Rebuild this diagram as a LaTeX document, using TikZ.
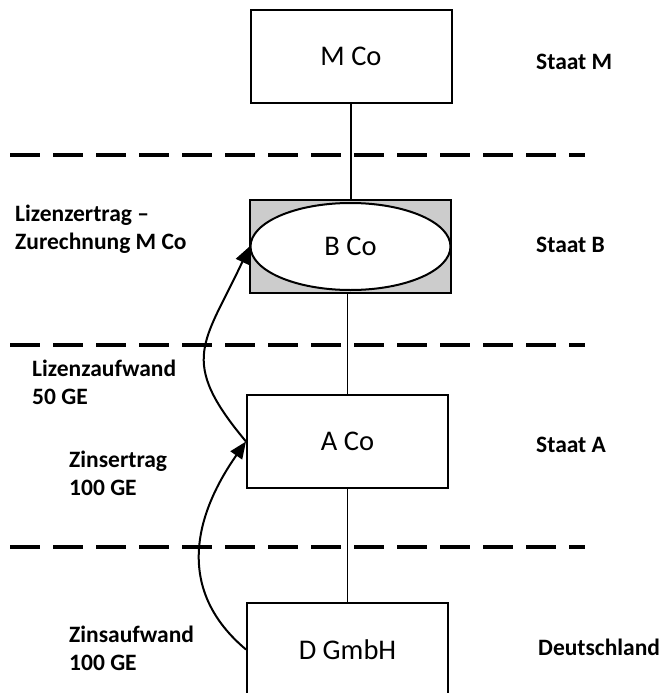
\documentclass[tikz,border=0pt]{standalone}
\usepackage{fontspec}
\setmainfont{Carlito}
\usetikzlibrary{arrows.meta,shapes.geometric}

\begin{document}
\begin{tikzpicture}[x=1pt, y=-1pt,
	entity/.style={draw, line width=2pt, minimum width=201pt, minimum height=93pt, inner sep=0pt, font=\fontsize{28.5}{32}\selectfont},
	state/.style={anchor=base west, inner sep=0pt, font=\bfseries\fontsize{23.5}{28}\selectfont},
	note/.style={anchor=north west, align=left, inner sep=0pt, font=\bfseries\fontsize{23.5}{28}\selectfont},
	border/.style={line width=4pt, dash pattern=on 30pt off 13pt},
	link/.style={line width=1.6pt},
	flow/.style={line width=2pt, -{Triangle[length=17pt, width=14pt]}}]
	\useasboundingbox (0,0) rectangle (662,693);
	\clip (0,0) rectangle (662,693);
	% state borders
	\foreach \yb in {155, 345, 547} {
		\draw[border] (10,\yb) -- (585,\yb);
	}
	% entities
	\node[entity] (mco) at (351,56.5) {M Co};
	\node[entity, fill=gray!40] (bco) at (350.5,246.5) {};
	\node[draw, ellipse, line width=2pt, fill=white, minimum width=200pt, minimum height=87pt, inner sep=0pt, font=\fontsize{28.5}{32}\selectfont] (bell) at (350.5,246.5) {B Co};
	\node[entity] (aco) at (347.5,441.5) {A Co};
	\node[entity] (dgmbh) at (347.5,649.5) {D GmbH};
	% ownership chain
	\draw[link] (mco.south) -- (mco.south |- bco.north);
	\draw[link] (aco.north) -- (aco.north |- bco.south);
	\draw[link] (aco.south) -- (dgmbh.north);
	% payment flows
	\draw[flow] (aco.west) to[out=130, in=-115, looseness=1.4] (bell.west);
	\draw[flow] (dgmbh.west) to[out=140, in=-125, looseness=1.13] (aco.west);
	% states
	\node[state] (stm) at (536,70) {Staat M};
	\node[state] (stb) at (536,252) {Staat B};
	\node[state] (sta) at (536,452) {Staat A};
	\node[state] (std) at (538,655) {Deutschland};
	% flow labels
	\node[note] (lzert) at (15,205) {Lizenzertrag –\\Zurechnung M Co};
	\node[note] (lzauf) at (32,360) {Lizenzaufwand\\50 GE};
	\node[note] (zert) at (69,451) {Zinsertrag\\100 GE};
	\node[note] (zauf) at (69,626) {Zinsaufwand\\100 GE};
\end{tikzpicture}
\end{document}
